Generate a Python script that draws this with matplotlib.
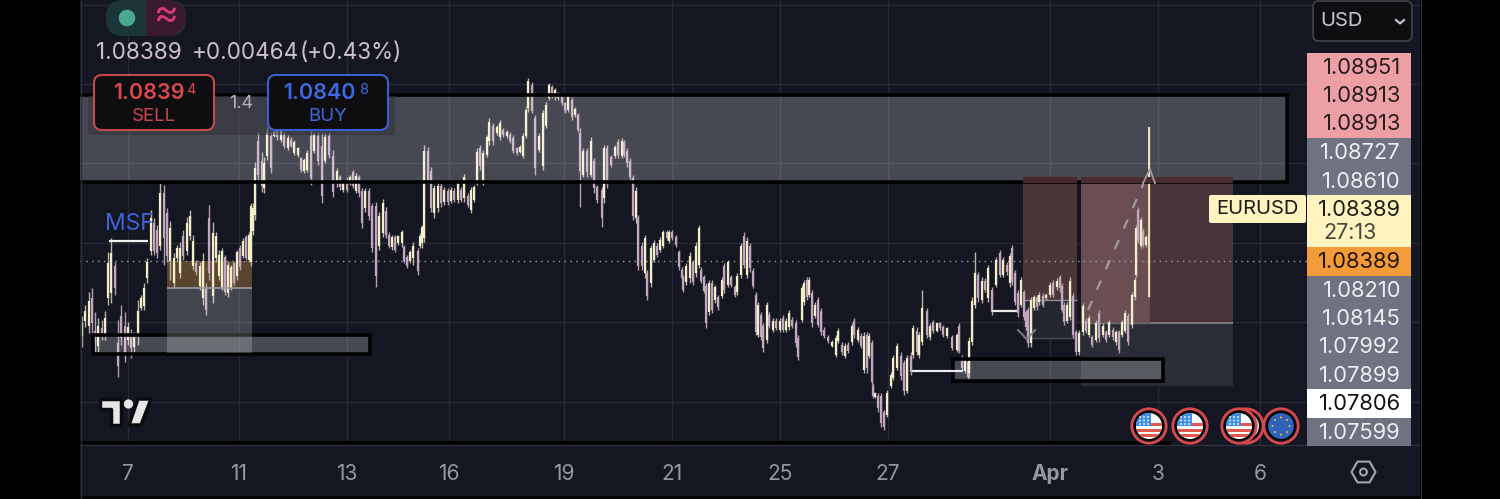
import matplotlib
matplotlib.use("Agg")
import matplotlib.pyplot as plt
from matplotlib.patches import Rectangle, FancyBboxPatch, Circle, Polygon, Wedge
import numpy as np

plt.rcParams['font.family'] = ['Inter', 'DejaVu Sans']

# time position of each bar, price in points above 1.07 (1 pt = 0.00001)
bar_time = [
 2,5,9,12,15,18,22,25,28,31, 35,38,41,45,48,51,54,58,61,64,
 67,71,74,77,80,84,87,90,94,97, 100,103,107,110,113,116,120,123,126,129,
 133,136,139, 142,145,148,151,154,157,160,163,166,169,171,
 173,175,178,182,184,187,191, 194,197,201,204,208,211,214,218,221,224,
 227,231,234,238,242,245,249,253,257,260, 263,267,270,273,276,279,282,285,289,292,
 296,299,303,306,309,312,315,318,322,324, 327,330,333,338,340,342,344,348,351,354,
 358,361,364,368,371,374,378,381,384,388, 391,394,397,400,403,407,409,413,417,420,
 423,427,430,433,437,440,443,446,448,452, 455,459,463,466,469,472,475,478,482,485,
 488,492,495,498,500,503,507,511,514,517, 522,524,527,531,535,538,542,544,547,550,
 553,556,558,562,565,567,571,574,577,580, 583,587,589,592,596,599,602,603,606,610,
 613,616,619,621,624,626,629,632,635,638, 642,644,648,651,655,657,661,664,667,670,
 673,676,678,681,683,687,689,693,696,700, 703,706,709,712,716,718,722,724,727,729,
 732,735,738,741,744,748,752,756,758,762, 765,768,772,774,778,781,784,787,789,792,
 793,795,798,801,804,807,811,813,817,821, 824,827,831,833,837,839,842,847,850,853,
 857,860,863,867,872,877,879,882,885,888, 889,892,895,898,902,905,908,912,916,920,
 923,927,930,932,935,938,941,944,946,948, 951,954,957,959,963,966,970,973,977,980,
 982,984,987,990,993,996,999,1003,1006,1009, 1012,1016,1019,1023,1026,1029,1033,1036,1039,1042,
 1045,1048,1052,1055,1056,1058,1061,1063,1066,1069,
]
high = [
 1169,1213,1265,1281,1185,1161,1153,1189,1425,1481, 1385,1153,1213,1185,1145,1117,1105,1233,1253,1301,
 1401,1593,1561,1533,1701,1693,1601,1549,1421,1453, 1465,1513,1565,1593,1493,1393,1385,1421,1301,1613,
 1545,1505,1433, 1441,1413,1385,1373,1385,1433,1453,1481,1493,1505,1621,
 1621,1785,1905,1825,1805,1925,1905, 1913,1933,1921,1905,1893,1885,1873,1845,1805,1801,
 1833,1913,1905,1905,1905,1901,1905,1833,1761,1733, 1713,1725,1733,1753,1741,1733,1681,1681,1681,1621,
 1625,1585,1637,1605,1505,1493,1493,1493,1513,1453, 1413,1433,1465,1441,1501,1533,1853,1845,1765,1693,
 1705,1701,1685,1681,1685,1681,1713,1685,1737,1661, 1685,1693,1841,1853,1833,1893,1961,1941,1933,1953,
 1921,1913,1905,1893,1845,1853,1901,2005,2121,2105, 1973,1901,1993,2025,2101,2093,2081,2065,2053,2025,
 2061,2045,2005,1981,1921,1841,1841,1885,1801,1693, 1685,1853,1853,1813,1853,1877,1881,1873,1841,1801,
 1733,1685,1573,1465,1493,1353,1453,1473,1461,1485, 1513,1513,1513,1513,1493,1433,1365,1333,1381,1425,
 1393,1465,1533,1365,1333,1301,1313,1313,1293,1253, 1325,1381,1393,1333,1293,1341,1461,1505,1485,1461,
 1361,1265,1225,1185,1141,1225,1185,1161,1161,1161, 1173,1161,1193,1165,1153,1093,1293,1313,1325,1325,
 1273,1225,1245,1201,1125,1093,1073,1093,1121,1065, 1061,1065,1141,1161,1125,1101,1105,1105,1101,1073,
 901,865,861,861,793,873,945,1013,1061,1025, 993,1013,1025,1133,1125,1105,1273,1201,1141,1153,
 1145,1145,1133,1125,1093,1101,1141,1013,1005,993, 1085,1245,1425,1345,1325,1321,1373,1285,1405,1433,
 1405,1385,1421,1453,1353,1273,1325,1273,1193,1205, 1245,1253,1253,1265,1261,1261,1305,1313,1321,1333,
 1301,1225,1225,1325,1261,1113,1113,1221,1161,1173, 1093,1153,1193,1141,1113,1153,1125,1113,1113,1153,
 1193,1181,1265,1325,1533,1605,1565,1521,1493,1925,
]
low = [
 1045,1125,1101,1101,1021,1025,1073,1073,1213,1221, 1253,925,1053,985,1053,1001,1025,1053,1193,1193,
 1301,1413,1413,1401,1433,1373,1385,1313,1281,1385, 1321,1393,1413,1473,1353,1333,1273,1213,1173,1313,
 1221,1385,1313, 1273,1253,1245,1273,1293,1313,1353,1401,1393,1385,1369,
 1493,1553,1713,1665,1661,1793,1741, 1885,1873,1865,1841,1833,1845,1813,1805,1745,1741,
 1745,1693,1821,1773,1621,1781,1801,1645,1685,1673, 1665,1665,1693,1681,1661,1645,1521,1585,1553,1425,
 1285,1433,1485,1481,1441,1433,1425,1453,1445,1381, 1361,1381,1373,1333,1441,1441,1465,1701,1585,1561,
 1585,1605,1613,1613,1621,1625,1621,1625,1625,1605, 1581,1625,1693,1753,1693,1805,1853,1853,1893,1873,
 1885,1881,1861,1821,1813,1821,1801,1881,1985,1981, 1733,1825,1753,1921,2033,2041,2033,2033,2013,1981,
 1985,1953,1965,1905,1605,1725,1725,1725,1661,1621, 1525,1621,1681,1765,1801,1801,1801,1805,1765,1713,
 1553,1541,1353,1353,1321,1233,1285,1385,1405,1425, 1441,1473,1461,1473,1445,1353,1313,1265,1293,1301,
 1293,1325,1361,1301,1261,1121,1173,1181,1221,1193, 1241,1261,1285,1285,1245,1253,1321,1361,1321,1345,
 1281,1093,1085,1073,1025,1061,1121,1105,1113,1105, 1105,1105,1113,1121,1045,993,1145,1213,1233,1245,
 1125,1161,1125,1093,1081,1061,1045,1005,1061,1013, 1001,1021,1053,1081,1065,1041,941,941,1001,893,
 841,841,785,725,713,765,881,913,953,913, 853,861,933,1001,1013,1001,1053,1081,1073,1101,
 1105,1113,1085,1081,1033,1025,1021,953,941,913, 925,1053,1201,1225,1221,1265,1225,1173,1285,1325,
 1325,1333,1285,1293,1213,1165,1205,1153,1113,1045, 1045,1193,1193,1213,1205,1233,1245,1245,1273,1265,
 1185,1133,1141,1153,1081,1013,1013,1093,1101,1085, 1045,1065,1065,1085,1065,1085,1073,1053,1021,1085,
 1101,1053,1121,1233,1325,1461,1441,1445,1445,1245,
]
open_ = [
 1090,1150,1130,1240,1110,1050,1120,1095,1240,1260, 1370,1060,1170,1130,1075,1085,1045,1090,1200,1210,
 1320,1430,1540,1515,1450,1660,1580,1390,1300,1400, 1340,1490,1430,1490,1370,1380,1290,1240,1280,1560,
 1250,1400,1330, 1280,1405,1260,1280,1380,1330,1440,1410,1485,1395,1385,
 1510,1575,1870,1790,1680,1810,1890, 1890,1920,1875,1895,1840,1875,1820,1815,1800,1750,
 1755,1890,1830,1890,1850,1790,1890,1810,1700,1725, 1675,1710,1700,1745,1670,1725,1670,1600,1670,1610,
 1610,1450,1500,1590,1495,1445,1485,1460,1460,1445, 1405,1390,1400,1430,1450,1460,1480,1830,1750,1580,
 1600,1690,1625,1670,1630,1670,1635,1675,1640,1650, 1595,1635,1700,1840,1710,1815,1870,1930,1900,1885,
 1915,1890,1895,1880,1840,1825,1810,1890,2000,2095, 1960,1835,1770,1930,2040,2085,2045,2060,2045,2020,
 1995,2035,1975,1975,1900,1735,1830,1735,1790,1685, 1675,1640,1840,1805,1810,1865,1810,1865,1830,1790,
 1720,1560,1560,1450,1340,1340,1300,1395,1450,1435, 1450,1505,1470,1505,1485,1425,1355,1325,1305,1320,
 1385,1340,1375,1355,1325,1290,1185,1300,1235,1245, 1250,1370,1295,1325,1285,1265,1335,1490,1335,1450,
 1350,1255,1095,1175,1130,1075,1175,1115,1150,1115, 1160,1115,1125,1155,1140,1080,1155,1225,1315,1255,
 1260,1170,1235,1190,1115,1085,1050,1015,1070,1055, 1010,1055,1065,1150,1075,1090,955,1095,1010,1060,
 890,845,850,850,785,775,890,920,960,1010, 980,870,1010,1015,1110,1015,1065,1190,1085,1145,
 1110,1140,1125,1090,1085,1035,1130,1005,950,985, 940,1065,1215,1335,1235,1310,1240,1275,1295,1420,
 1335,1375,1300,1440,1340,1260,1215,1265,1185,1195, 1060,1200,1245,1225,1250,1240,1255,1300,1285,1325,
 1290,1215,1150,1165,1250,1105,1025,1105,1150,1095, 1085,1075,1180,1095,1105,1095,1115,1065,1105,1095,
 1110,1170,1135,1245,1335,1595,1450,1510,1455,1380,
]
close = [
 1140,1190,1230,1140,1060,1130,1090,1160,1380,1420, 1280,970,1080,1020,1125,1040,1085,1190,1240,1280,
 1385,1560,1430,1420,1660,1480,1410,1520,1400,1440, 1440,1410,1540,1570,1470,1345,1370,1390,1195,1340,
 1500,1490,1415, 1430,1265,1375,1365,1300,1425,1365,1470,1400,1495,1610,
 1600,1760,1735,1690,1780,1900,1760, 1905,1885,1910,1850,1880,1850,1865,1840,1755,1795,
 1820,1720,1895,1790,1650,1885,1815,1665,1750,1685, 1705,1675,1725,1690,1730,1660,1540,1670,1570,1440,
 1330,1570,1620,1495,1450,1485,1435,1490,1505,1390, 1370,1425,1450,1350,1490,1525,1830,1715,1600,1680,
 1690,1620,1675,1625,1675,1635,1700,1635,1725,1615, 1675,1685,1825,1770,1820,1885,1945,1870,1925,1940,
 1895,1905,1870,1830,1820,1845,1890,1995,2110,1990, 1760,1890,1980,2015,2095,2050,2075,2040,2020,1990,
 2050,1965,1998,1915,1750,1830,1745,1870,1680,1635, 1560,1840,1700,1775,1845,1815,1870,1815,1780,1725,
 1570,1670,1370,1370,1480,1250,1440,1460,1415,1475, 1505,1480,1505,1480,1455,1365,1320,1275,1370,1410,
 1305,1450,1520,1310,1270,1140,1300,1195,1285,1205, 1315,1275,1385,1295,1255,1330,1450,1375,1470,1360,
 1290,1105,1215,1085,1040,1215,1130,1150,1120,1150, 1115,1150,1180,1130,1060,1005,1280,1300,1245,1315,
 1140,1215,1135,1105,1090,1070,1065,1080,1110,1025, 1050,1030,1130,1095,1115,1050,1090,960,1090,905,
 850,860,800,740,725,860,935,1000,1050,930, 870,1000,945,1120,1025,1095,1200,1095,1130,1110,
 1140,1120,1095,1120,1040,1095,1030,960,995,925, 1070,1230,1340,1240,1310,1275,1360,1185,1395,1335,
 1395,1345,1410,1305,1225,1180,1315,1165,1125,1060, 1235,1245,1205,1255,1215,1255,1295,1255,1310,1280,
 1195,1145,1215,1310,1095,1025,1100,1210,1110,1160, 1055,1140,1080,1130,1075,1145,1085,1105,1035,1145,
 1180,1065,1255,1315,1520,1470,1555,1455,1485,1389,
]

tick_time = [48,159,267,369,484,592,700,808,970,1078,1180]
tick_labels = ['7','11','13','16','19','21','25','27','Apr','3','6']
grid_prices = [825,1145,1461,1781,2097,2413]
last_price = 1389

price_labels = ['1.08951','1.08913','1.08913','1.08727','1.08610','1.08389','1.08389',
                '1.08210','1.08145','1.07992','1.07899','1.07806','1.07599']
label_top = [53,81,109,138,167,195,247,276,304,332,361,389,418]
label_bot = [81,109,138,167,195,247,276,304,332,361,389,418,446]
label_bg = ['#eda0a4','#eda0a4','#eda0a4','#6f7280','#6f7280','#fff4c0','#f29b38',
            '#6f7280','#6f7280','#6f7280','#6f7280','#ffffff','#6f7280']
label_fg = ['#2a1c1e','#2a1c1e','#2a1c1e','#eceef2','#eceef2','#1c1c14','#1f1608',
            '#eceef2','#eceef2','#eceef2','#eceef2','#111111','#eceef2']

BG = '#141722'
GRID = '#272a35'
fig = plt.figure(figsize=(15, 4.99), dpi=100, facecolor='black')
ax = fig.add_axes([0, 0, 1, 1])
ax.set_facecolor(BG)
ax.set_xlim(-80, 1420)
ax.set_ylim(437, 2433)
ax.axis('off')
ax.add_patch(Rectangle((-80, 437), 1500, 1996, fc=BG, ec='none', zorder=0))

# grid
ax.hlines(grid_prices, 0, 1340, color=GRID, lw=1, zorder=0.5)
ax.vlines(tick_time, 653, 2433, color=GRID, lw=1, zorder=0.5)

# zones below candles
def box(t0, t1, p0, p1, z=1, **kw):
    ax.add_patch(Rectangle((t0, p0), t1 - t0, p1 - p0, zorder=z, **kw))

box(87, 172, 1281, 1389, fc='#5a4630', ec='none')
box(943, 997, 1233, 1721, fc='#4c3539', ec='none')
box(943, 997, 1081, 1233, fc='#23262f', ec='none')
box(1001, 1153, 1141, 1721, fc='#4a3339', ec='none')
box(1001, 1070, 1141, 1721, fc='#6a4e53', ec='none')
box(1001, 1153, 889, 1141, fc='#2a2d37', ec='none')
ax.hlines(1233, 943, 997, color='#8a8c92', lw=1, zorder=2)
ax.hlines(1081, 943, 997, color='#4a4d56', lw=1, zorder=2)
ax.hlines(1141, 1070, 1153, color='#85878e', lw=1.2, zorder=2)
ax.hlines(1141, 1001, 1070, color='#6f6a70', lw=1, zorder=2)

ax.hlines(last_price, 0, 1227, color='#9fa1a8', lw=1, linestyles=(0, (1, 3.2)), zorder=2)

# candles
CREAM = '#f2eec8'
PINK = '#c4a6be'
bar_time_a = np.array(bar_time)
h, l, o, c = map(np.array, (high, low, open_, close))
up = c >= o
cols = np.where(up, CREAM, PINK)
ax.vlines(bar_time_a, l, h, colors=np.where(up, '#b9b5a4', '#b49db2'), lw=1.0, zorder=3)
ax.vlines(bar_time_a, np.minimum(o, c), np.maximum(o, c), colors=cols, lw=1.6, zorder=3.2)
ax.vlines(bar_time_a[-1], l[-1], h[-1], colors='#f3e6ad', lw=1.3, zorder=3.3)

# lines
ax.hlines(1469, 29, 68, color='#f2f2ee', lw=1.6, zorder=5)
ax.hlines(949, 832, 883, color='#e9e9ee', lw=1.6, zorder=5)
ax.hlines(1189, 912, 937, color='#e9e9ee', lw=1.6, zorder=5)

# grey zones above candles
GREY = dict(fc=(1, 1, 1, 0.22), ec='black', lw=2.6)
box(-6, 1207, 1707, 2053, z=4, **GREY)
box(13, 290, 1017, 1093, z=4, **GREY)
box(873, 1083, 909, 997, z=4, **GREY)
box(87, 172, 1021, 1281, z=4, fc=(1, 1, 1, 0.2), ec='none')
ax.hlines(1281, 87, 172, color='#9a9a9e', lw=1.2, zorder=4.2)

# the position boxes cover the zone's lower edge
box(943, 997, 1700, 1725, z=4.5, fc='#46282c', ec='none')
box(1001, 1153, 1700, 1725, z=4.5, fc='#4c2c30', ec='none')

# dashed arrows
ax.plot([1008, 1070], [1193, 1757], color='#a49a9e', lw=1.6, ls=(0, (4.5, 5.5)), zorder=3.1)
ax.plot([1063, 1070, 1075], [1700, 1757, 1700], color='#a49a9e', lw=1.3, zorder=4.6)
ax.plot([938, 947, 955], [1113, 1075, 1113], color='#80828a', lw=1.3, zorder=4)

ax.text(25, 1537, 'MSF', color='#3f63d8', fontsize=16.5, va='center', ha='left', zorder=6)

# time axis
ax.hlines(653, 0, 1340, color='#30333d', lw=1, zorder=6)
ax.hlines(661, 0, 1091, color='black', lw=2.6, zorder=6)
for t, s in zip(tick_time, tick_labels):
    ax.text(t, 537, s, color='#9598a3', fontsize=15, ha='center', va='center', zorder=6,
            fontweight='bold' if s == 'Apr' else 'normal')

# interface overlay
ui = fig.add_axes([0, 0, 1, 1], zorder=10)
ui.set_xlim(0, 1500)
ui.set_ylim(499, 0)
ui.axis('off')
ui.patch.set_alpha(0)
ui.add_patch(Rectangle((0, 0), 80, 499, fc='black', ec='none'))
ui.add_patch(Rectangle((1420, 0), 80, 499, fc='black', ec='none'))
ui.vlines(1420.5, 0, 499, color='#2c2f38', lw=1)
ui.vlines(80.5, 0, 499, color='#2c2f38', lw=1)
ui.add_patch(Rectangle((80, 496), 1340, 3, fc='#050505', ec='none'))

def rbox(x0, y0, x1, y1, r, **kw):
    p = FancyBboxPatch((x0 + r, y0 + r), x1 - x0 - 2 * r, y1 - y0 - 2 * r,
                       boxstyle=f'round,pad={r},rounding_size={r}', **kw)
    ui.add_patch(p)
    return p

# top-left toggle
rbox(106, 0, 186, 36, 17, fc='#1c3538', ec='none')
ui.add_patch(Wedge((168, 18), 18, -90, 90, fc='#3a1a30', ec='none'))
ui.add_patch(Rectangle((146, 0), 22, 36, fc='#3a1a30', ec='none'))
ui.add_patch(Circle((127, 18), 8.3, fc='#4aa88f', ec='none'))
ui.text(166, 15, '≈', color='#d83a72', fontsize=27, ha='center', va='center')

ui.text(96, 53, '1.08389', color='#cdbfcd', fontsize=16.2, ha='left', va='center')
ui.text(192, 53, '+0.00464', color='#cdbfcd', fontsize=16.2, ha='left', va='center')
ui.text(300, 53, '(+0.43%)', color='#cdbfcd', fontsize=16.2, ha='left', va='center')

ui.add_patch(Rectangle((88, 96), 307, 39, fc=(0.2, 0.2, 0.24, 0.55), ec='none'))
ui.text(241, 103, '1.4', color='#b0b2b8', fontsize=13, ha='center', va='center')
rbox(94, 75, 214, 130, 8, fc='#0e0e10', ec='#c8474b', lw=1.5)
rbox(268, 75, 388, 130, 8, fc='#0e0e10', ec='#3a5fd0', lw=1.5)
ui.text(185, 93, '1.0839', color='#d8484c', fontsize=15.5, fontweight='semibold', ha='right', va='center')
ui.text(186, 90, '4', color='#d8484c', fontsize=10.5, ha='left', va='center')
ui.text(154, 116, 'SELL', color='#c8474b', fontsize=13.5, ha='center', va='center')
ui.text(356, 93, '1.0840', color='#3f68e0', fontsize=15.5, fontweight='semibold', ha='right', va='center')
ui.text(359, 90, '8', color='#3f68e0', fontsize=10.5, ha='left', va='center')
ui.text(328, 116, 'BUY', color='#3f68e0', fontsize=13.5, ha='center', va='center')

# TradingView mark
logo_t = [(100, 399), (121, 399), (121, 425), (111, 425), (111, 409), (100, 409)]
logo_s = [(138, 399), (151, 399), (141, 425), (129, 425)]
for pts_ in (logo_t, logo_s):
    ui.add_patch(Polygon(pts_, fc='#e6e6e6', ec='#0b0c10', lw=2.5, joinstyle='round'))
ui.add_patch(Circle((128.5, 404), 4.6, fc='#e6e6e6', ec='none'))

# price scale
rbox(1313, 1, 1412, 41, 6, fc='#0e0e10', ec='#3d3f46', lw=1.3)
ui.text(1320, 21, 'USD', color='#c8cad0', fontsize=14.5, ha='left', va='center')
ui.plot([1396, 1400, 1404], [20, 23.5, 20], color='#c8cad0', lw=1.5)

for s, t, b, bgc, fg in zip(price_labels, label_top, label_bot, label_bg, label_fg):
    ui.add_patch(Rectangle((1307, t), 104, b - t, fc=bgc, ec='none'))
    ui.text(1401, t + 15, s, color=fg, fontsize=15.8, ha='right', va='center')
ui.text(1323, 233, '27:13', color='#45453a', fontsize=15.5, ha='left', va='center')
rbox(1209, 195, 1306, 223, 2, fc='#fff4c0', ec='none')
ui.text(1257.5, 209, 'EURUSD', color='#1c1c14', fontsize=14.5, ha='center', va='center')

# event flags
def ring(x, y):
    ui.add_patch(Circle((x, y), 17.2, fc='#131620', ec='#d8484c', lw=2))
    ui.add_patch(Circle((x, y), 14.6, fc='black', ec='none'))

def us_flag(x, y):
    ring(x, y)
    clip = Circle((x, y), 13, fc='white', ec='none')
    ui.add_patch(clip)
    for dy in (-3, 2.5, 8):
        ui.add_patch(Rectangle((x - 13, y + dy), 26, 3, fc='#e2574c', ec='none', clip_path=clip))
    ui.add_patch(Rectangle((x - 13, y - 13), 15, 13, fc='#3f8ee8', ec='none', clip_path=clip))
    for dx in (-9, -5, -1):
        for dy in (-9, -5.5, -2):
            ui.add_patch(Circle((x + dx, y + dy), 0.9, fc='white', ec='none'))

def eu_flag(x, y):
    ring(x, y)
    ui.add_patch(Circle((x, y), 13, fc='#2f62b8', ec='none'))
    for a in np.deg2rad(np.arange(0, 360, 45)):
        ui.add_patch(Circle((x + 8.6 * np.cos(a), y + 8.6 * np.sin(a)), 1, fc='#f5c33b', ec='none'))

us_flag(1149, 426)
us_flag(1190, 426)
ring(1246, 426)
ui.add_patch(Circle((1246, 426), 13, fc='#e8e8e8', ec='none'))
us_flag(1239, 426)
eu_flag(1281, 426)

# settings hexagon
a = np.deg2rad(np.arange(0, 360, 60))
ui.add_patch(Polygon(np.column_stack((1363.5 + 12 * np.cos(a), 472 + 12 * np.sin(a))),
                     fc='none', ec='#a4a7b0', lw=1.5, joinstyle='round'))
ui.add_patch(Circle((1363.5, 472), 3.4, fc='none', ec='#a4a7b0', lw=1.5))

fig.savefig('out.png', dpi=100, facecolor='black')
